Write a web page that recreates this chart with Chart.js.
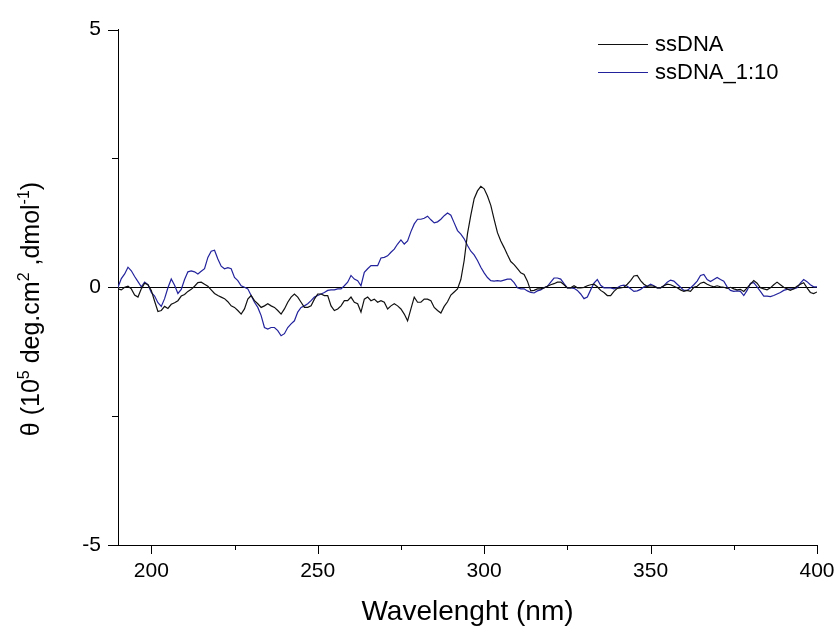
<!DOCTYPE html>
<html>
<head>
<meta charset="utf-8">
<title>CD ssDNA</title>
<script src="https://cdn.jsdelivr.net/npm/chart.js@4/dist/chart.umd.min.js"></script>
<style>
    html, body { margin: 0; padding: 0; background: #fff; }
    canvas { display: block; }
</style>
</head>
<body>
<canvas id="grafico-cd" width="837" height="626"></canvas>
<script>
// comprimentos de onda (nm)
const comprimentos = [
    190, 191, 192, 193, 194, 195, 196, 197, 198, 199,
    200, 201, 202, 203, 204, 205, 206, 207, 208, 209,
    210, 211, 212, 213, 214, 215, 216, 217, 218, 219,
    220, 221, 222, 223, 224, 225, 226, 227, 228, 229,
    230, 231, 232, 233, 234, 235, 236, 237, 238, 239,
    240, 241, 242, 243, 244, 245, 246, 247, 248, 249,
    250, 251, 252, 253, 254, 255, 256, 257, 258, 259,
    260, 261, 262, 263, 264, 265, 266, 267, 268, 269,
    270, 271, 272, 273, 274, 275, 276, 277, 278, 279,
    280, 281, 282, 283, 284, 285, 286, 287, 288, 289,
    290, 291, 292, 293, 294, 295, 296, 297, 298, 299,
    300, 301, 302, 303, 304, 305, 306, 307, 308, 309,
    310, 311, 312, 313, 314, 315, 316, 317, 318, 319,
    320, 321, 322, 323, 324, 325, 326, 327, 328, 329,
    330, 331, 332, 333, 334, 335, 336, 337, 338, 339,
    340, 341, 342, 343, 344, 345, 346, 347, 348, 349,
    350, 351, 352, 353, 354, 355, 356, 357, 358, 359,
    360, 361, 362, 363, 364, 365, 366, 367, 368, 369,
    370, 371, 372, 373, 374, 375, 376, 377, 378, 379,
    380, 381, 382, 383, 384, 385, 386, 387, 388, 389,
    390, 391, 392, 393, 394, 395, 396, 397, 398, 399,
    400
];

// theta (10^5 deg.cm2.dmol-1)
const ssDNA = [
    -0.03, -0.05, 0.00, 0.02, -0.03, -0.15, -0.19, -0.03, 0.08, 0.05,
    -0.06, -0.27, -0.47, -0.45, -0.37, -0.41, -0.33, -0.30, -0.26, -0.17,
    -0.14, -0.08, -0.04, 0.02, 0.09, 0.10, 0.06, 0.02, -0.05, -0.12,
    -0.16, -0.19, -0.22, -0.28, -0.36, -0.39, -0.45, -0.52, -0.42, -0.23,
    -0.16, -0.26, -0.32, -0.39, -0.36, -0.32, -0.36, -0.39, -0.45, -0.52,
    -0.42, -0.29, -0.19, -0.13, -0.19, -0.29, -0.39, -0.39, -0.36, -0.23,
    -0.13, -0.13, -0.16, -0.16, -0.36, -0.45, -0.42, -0.36, -0.26, -0.26,
    -0.19, -0.29, -0.32, -0.48, -0.23, -0.19, -0.26, -0.23, -0.29, -0.26,
    -0.29, -0.42, -0.36, -0.32, -0.36, -0.42, -0.52, -0.65, -0.42, -0.19,
    -0.29, -0.29, -0.23, -0.23, -0.26, -0.39, -0.45, -0.50, -0.37, -0.28,
    -0.15, -0.09, -0.03, 0.15, 0.52, 1.04, 1.40, 1.72, 1.87, 1.96,
    1.91, 1.77, 1.59, 1.32, 1.06, 0.90, 0.77, 0.63, 0.50, 0.44,
    0.36, 0.28, 0.25, 0.12, -0.07, -0.06, -0.03, -0.03, -0.01, 0.02,
    0.05, 0.07, 0.10, 0.10, 0.05, -0.01, -0.01, 0.03, -0.01, -0.01,
    0.00, 0.03, 0.05, 0.06, 0.01, -0.06, -0.10, -0.16, -0.16, -0.08,
    -0.02, -0.01, 0.00, 0.06, 0.13, 0.22, 0.23, 0.13, 0.06, 0.02,
    0.03, 0.02, -0.01, -0.01, 0.03, 0.06, 0.05, 0.02, -0.01, -0.05,
    -0.08, -0.06, -0.08, 0.00, 0.02, 0.08, 0.10, 0.06, 0.03, 0.01,
    0.03, 0.01, 0.00, -0.02, 0.00, -0.03, -0.05, -0.04, -0.08, -0.01,
    0.06, 0.13, 0.08, -0.01, -0.03, -0.05, -0.01, 0.05, 0.10, 0.05,
    0.00, -0.03, -0.06, -0.03, 0.02, 0.06, 0.09, -0.01, -0.10, -0.12,
    -0.09
];

const ssDNA_1_10 = [
    0.00, 0.17, 0.26, 0.39, 0.32, 0.21, 0.11, 0.01, 0.10, 0.05,
    -0.10, -0.17, -0.30, -0.37, -0.22, -0.01, 0.16, 0.04, -0.12, -0.04,
    0.15, 0.30, 0.32, 0.30, 0.26, 0.31, 0.36, 0.58, 0.70, 0.72,
    0.55, 0.41, 0.36, 0.38, 0.36, 0.19, 0.13, 0.03, 0.00, -0.03,
    -0.16, -0.29, -0.39, -0.55, -0.78, -0.81, -0.78, -0.78, -0.84, -0.94,
    -0.90, -0.78, -0.71, -0.65, -0.48, -0.39, -0.36, -0.32, -0.26, -0.19,
    -0.16, -0.13, -0.10, -0.06, -0.05, -0.05, -0.03, -0.03, 0.03, 0.10,
    0.23, 0.16, 0.13, 0.03, 0.29, 0.36, 0.42, 0.42, 0.42, 0.57,
    0.58, 0.61, 0.68, 0.74, 0.84, 0.92, 0.84, 0.90, 1.08, 1.23,
    1.32, 1.32, 1.34, 1.38, 1.31, 1.25, 1.27, 1.32, 1.39, 1.44,
    1.40, 1.25, 1.10, 1.03, 0.94, 0.81, 0.70, 0.63, 0.52, 0.39,
    0.28, 0.19, 0.13, 0.12, 0.13, 0.12, 0.14, 0.16, 0.16, 0.09,
    -0.01, -0.03, -0.03, -0.07, -0.10, -0.11, -0.07, -0.05, -0.01, 0.02,
    0.10, 0.18, 0.18, 0.16, 0.07, -0.01, -0.01, -0.02, -0.06, -0.13,
    -0.22, -0.19, -0.05, 0.08, 0.15, 0.04, -0.01, -0.01, -0.01, -0.03,
    -0.01, 0.03, 0.04, 0.02, -0.03, -0.08, -0.07, -0.04, 0.01, 0.02,
    0.06, 0.03, -0.01, -0.01, 0.03, 0.10, 0.14, 0.12, 0.06, 0.00,
    -0.06, -0.06, -0.01, 0.05, 0.12, 0.23, 0.25, 0.15, 0.11, 0.15,
    0.19, 0.15, 0.12, 0.01, -0.06, -0.08, -0.07, -0.08, -0.16, -0.06,
    0.08, 0.09, 0.01, -0.08, -0.17, -0.17, -0.18, -0.16, -0.13, -0.10,
    -0.06, -0.04, -0.03, -0.03, -0.01, 0.08, 0.15, 0.11, 0.05, 0.01,
    0.01
];

const nomesSeries = ["ssDNA", "ssDNA_1:10"];
const ticksX = [200, 250, 300, 350, 400];
const ticksXmenores = [225, 275, 325, 375];
const ticksY = [-5, 0, 5];
const ticksYmenores = [-2.5, 2.5];
const tituloX = "Wavelenght (nm)";
// partes do titulo do eixo y: [texto, sobrescrito?]
const tituloY = [["θ (10", false], ["5", true], [" deg.cm", false], ["2", true], [" ,dmol", false], ["-1", true], [")", false]];

const fonte = '"Liberation Sans", Arial, Helvetica, sans-serif';

function montarPontos(valores) {
    return comprimentos.map((c, i) => ({ x: c, y: valores[i] }));
}

// ticks, titulos e legenda desenhados a mao
const extras = {
    id: 'extras',
    afterDraw(chart) {
        const { ctx, chartArea: a, scales: { x, y } } = chart;
        ctx.save();
        ctx.strokeStyle = '#000';
        ctx.lineWidth = 1;
        ctx.beginPath();
        ticksX.forEach(v => {
            const px = Math.round(x.getPixelForValue(v)) + 0.5;
            ctx.moveTo(px, a.bottom);
            ctx.lineTo(px, a.bottom + 9);
        });
        ticksXmenores.forEach(v => {
            const px = Math.round(x.getPixelForValue(v)) + 0.5;
            ctx.moveTo(px, a.bottom);
            ctx.lineTo(px, a.bottom + 5);
        });
        ticksY.forEach(v => {
            const py = Math.round(y.getPixelForValue(v)) + 0.5;
            ctx.moveTo(a.left - 10, py);
            ctx.lineTo(a.left, py);
        });
        ticksYmenores.forEach(v => {
            const py = Math.round(y.getPixelForValue(v)) + 0.5;
            ctx.moveTo(a.left - 6, py);
            ctx.lineTo(a.left, py);
        });
        ctx.stroke();

        // titulo x
        ctx.fillStyle = '#000';
        ctx.font = '28px ' + fonte;
        ctx.textAlign = 'center';
        ctx.textBaseline = 'alphabetic';
        ctx.fillText(tituloX, (a.left + a.right) / 2, 620);

        // titulo y com sobrescritos
        const fonteNormal = '25px ' + fonte;
        const fonteSup = '16px ' + fonte;
        let total = 0;
        tituloY.forEach(([t, sup]) => {
            ctx.font = sup ? fonteSup : fonteNormal;
            total += ctx.measureText(t).width;
        });
        ctx.translate(30, 309);
        ctx.rotate(-Math.PI / 2);
        ctx.textAlign = 'left';
        let pos = -total / 2;
        tituloY.forEach(([t, sup]) => {
            ctx.font = sup ? fonteSup : fonteNormal;
            ctx.fillText(t, pos, sup ? -1 : 9);
            pos += ctx.measureText(t).width;
        });
        ctx.setTransform(1, 0, 0, 1, 0, 0);

        // legenda
        ctx.font = '22px ' + fonte;
        ctx.textBaseline = 'middle';
        chart.data.datasets.forEach((ds, i) => {
            const ly = 44 + i * 28;
            ctx.strokeStyle = ds.borderColor;
            ctx.lineWidth = 1;
            ctx.beginPath();
            ctx.moveTo(598, ly + 0.5);
            ctx.lineTo(648, ly + 0.5);
            ctx.stroke();
            ctx.fillStyle = '#000';
            ctx.fillText(ds.label, 655, ly + 1);
        });
        ctx.restore();
    }
};

const ctx = document.getElementById("grafico-cd").getContext("2d");

new Chart(ctx, {
    type: 'line',
    data: {
        datasets: [
            {
                label: nomesSeries[0],
                data: montarPontos(ssDNA),
                borderColor: '#111111',
                borderWidth: 1.2,
                pointRadius: 0,
                tension: 0,
                fill: false
            },
            {
                label: nomesSeries[1],
                data: montarPontos(ssDNA_1_10),
                borderColor: '#22229c',
                borderWidth: 1.2,
                pointRadius: 0,
                tension: 0,
                fill: false
            }
        ]
    },
    options: {
        responsive: false,
        animation: false,
        devicePixelRatio: 1,
        layout: { padding: { left: 0, top: 29, right: 20, bottom: 0 } },
        plugins: {
            legend: { display: false },
            tooltip: { enabled: false }
        },
        scales: {
            x: {
                type: 'linear',
                min: 190,
                max: 400,
                afterBuildTicks: scale => { scale.ticks = ticksX.map(v => ({ value: v })); },
                afterFit: scale => {
                    scale.height = 81;
                    scale.paddingLeft = 0;
                    scale.paddingRight = 0;
                },
                grid: { display: false, drawTicks: false },
                border: { display: true, color: '#000', width: 1 },
                ticks: {
                    padding: 14,
                    color: '#000',
                    font: { family: fonte, size: 21 },
                    maxRotation: 0
                }
            },
            y: {
                type: 'linear',
                min: -5,
                max: 5,
                afterBuildTicks: scale => { scale.ticks = ticksY.map(v => ({ value: v })); },
                afterFit: scale => { scale.width = 118; },
                grid: {
                    drawTicks: false,
                    color: c => (c.tick && c.tick.value === 0) ? '#000' : 'rgba(0,0,0,0)',
                    lineWidth: 1
                },
                border: { display: true, color: '#000', width: 1 },
                ticks: {
                    padding: 17,
                    color: '#000',
                    font: { family: fonte, size: 21 }
                }
            }
        }
    },
    plugins: [extras]
});
</script>
</body>
</html>
